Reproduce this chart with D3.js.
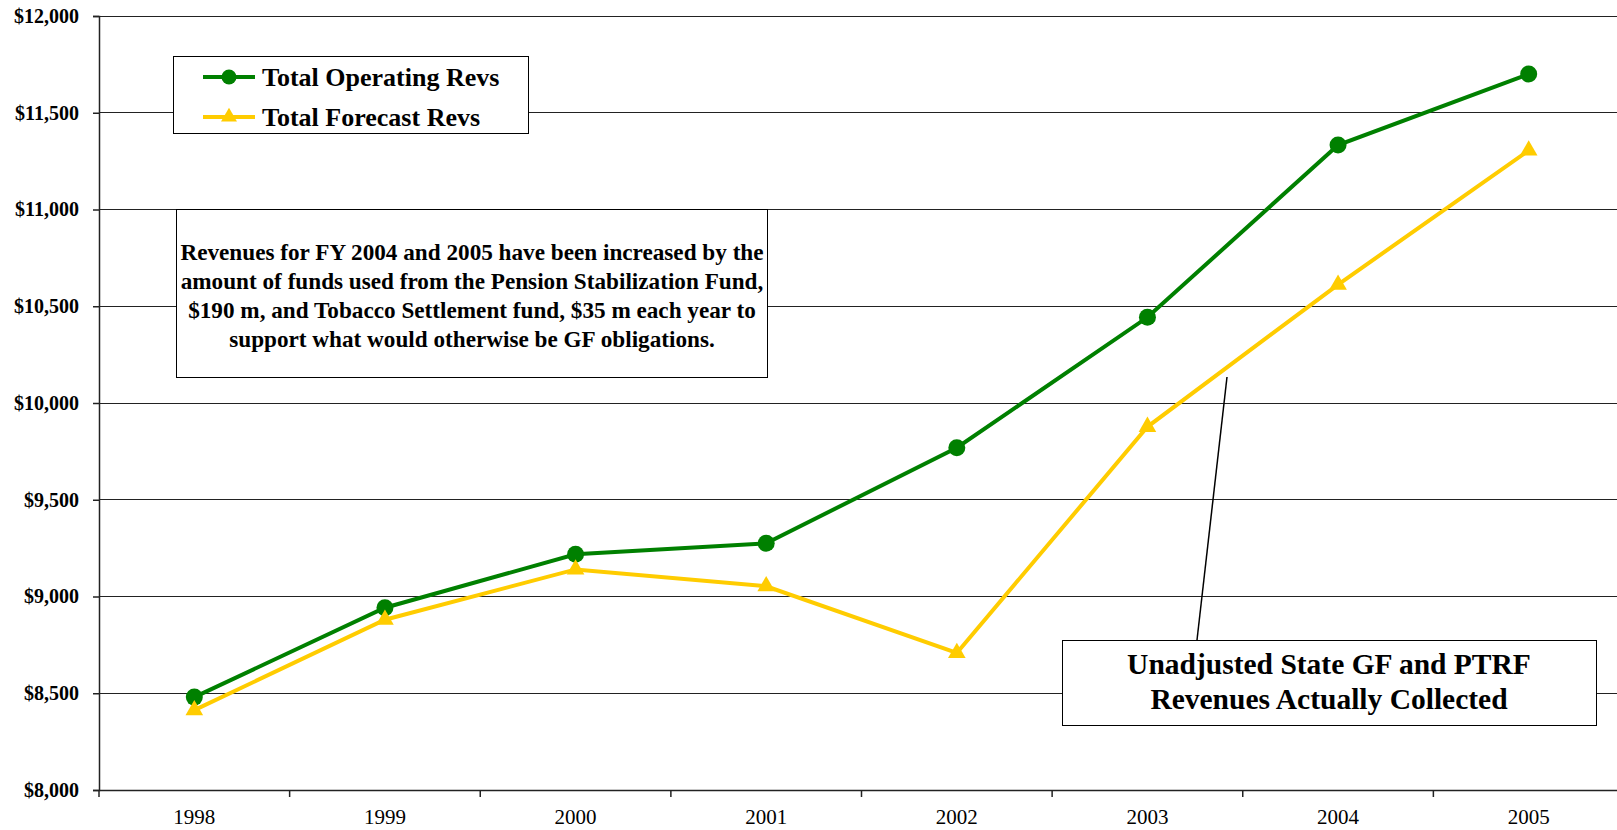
<html>
<head>
<script src="https://cdnjs.cloudflare.com/ajax/libs/d3/7.8.5/d3.min.js"></script>
<style>
  body { margin: 0; background: #fff; }
  text { font-family: "Times New Roman", "Liberation Serif", serif; }
</style>
</head>
<body>
<script>
  // chart data ($ millions)
  var years = ["1998", "1999", "2000", "2001", "2002", "2003", "2004", "2005"];
  var operatingRevs = [8480, 8942, 9218, 9275, 9769, 10443, 11333, 11700];
  var forecastRevs = [8413, 8880, 9140, 9053, 8708, 9877, 10612, 11305];
  var yTicks = [8000, 8500, 9000, 9500, 10000, 10500, 11000, 11500, 12000];
  var seriesNames = ["Total Operating Revs", "Total Forecast Revs"];
  var noteLines = [
    "Revenues for FY 2004 and 2005 have been increased by the",
    "amount of funds used from the Pension Stabilization Fund,",
    "$190 m, and Tobacco Settlement fund, $35 m each year to",
    "support what would otherwise be GF obligations."
  ];
  var calloutLines = ["Unadjusted State GF and PTRF", "Revenues Actually Collected"];

  var viz = { "width": 1617, "height": 830 };
  var plot = { "left": 99, "right": 1624, "top": 16, "bottom": 790 };
  var green = "#008000", yellow = "#FFCC00";
  var serif = '"Times New Roman", "Liberation Serif", serif';

  var svg = d3.select("body").append("svg")
      .attr("width", viz.width)
      .attr("height", viz.height);

  var x = d3.scaleBand().domain(years).range([plot.left, plot.right]).padding(0);
  var y = d3.scaleLinear().domain([8000, 12000]).range([plot.bottom, plot.top]);
  var cx = function(d, i) { return x(years[i]) + x.bandwidth() / 2; };

  // horizontal gridlines
  svg.append("g").selectAll("line").data(yTicks.slice(1)).enter().append("line")
      .attr("x1", plot.left).attr("x2", plot.right)
      .attr("y1", function(d) { return y(d); }).attr("y2", function(d) { return y(d); })
      .attr("stroke", "#222").attr("stroke-width", 1)
      .attr("shape-rendering", "crispEdges");

  // y axis
  var yAxis = d3.axisLeft(y).tickValues(yTicks).tickSize(6).tickPadding(14)
      .tickFormat(function(d) { return "$" + d3.format(",")(d); });
  var gy = svg.append("g").attr("transform", "translate(" + plot.left + ",0)").call(yAxis);
  gy.select(".domain").attr("stroke", "#222").attr("stroke-width", 1.5);
  gy.selectAll(".tick line").attr("stroke", "#222").attr("stroke-width", 1.5);
  gy.selectAll(".tick text").attr("font-size", 20).attr("font-weight", "bold")
      .attr("fill", "#000").style("font-family", serif);

  // x axis, ticks between categories
  var xAxis = d3.axisBottom(x).tickSize(0).tickPadding(19);
  var gx = svg.append("g").attr("transform", "translate(0," + plot.bottom + ")").call(xAxis);
  gx.select(".domain").attr("stroke", "#222").attr("stroke-width", 1.5);
  gx.selectAll(".tick text").attr("font-size", 21).attr("fill", "#000")
      .style("font-family", serif);
  gx.selectAll(".sep").data(years).enter().append("line")
      .attr("class", "sep")
      .attr("x1", function(d) { return x(d); }).attr("x2", function(d) { return x(d); })
      .attr("y1", 0).attr("y2", 7)
      .attr("stroke", "#222").attr("stroke-width", 1.5);

  // series lines
  var line = d3.line().x(cx).y(function(d) { return y(d); });
  svg.append("path").datum(operatingRevs).attr("d", line)
      .attr("fill", "none").attr("stroke", green).attr("stroke-width", 4);
  svg.append("path").datum(forecastRevs).attr("d", line)
      .attr("fill", "none").attr("stroke", yellow).attr("stroke-width", 4);

  // markers
  svg.append("g").selectAll("circle").data(operatingRevs).enter().append("circle")
      .attr("cx", cx).attr("cy", function(d) { return y(d); })
      .attr("r", 8.5).attr("fill", green);
  var tri = d3.symbol().type(d3.symbolTriangle).size(135);
  svg.append("g").selectAll("path").data(forecastRevs).enter().append("path")
      .attr("d", tri)
      .attr("transform", function(d, i) { return "translate(" + cx(d, i) + "," + y(d) + ")"; })
      .attr("fill", yellow);

  // legend
  var legend = svg.append("g");
  legend.append("rect").attr("x", 173.5).attr("y", 56.5).attr("width", 355).attr("height", 77)
      .attr("fill", "#fff").attr("stroke", "#000").attr("stroke-width", 1);
  var colors = [green, yellow];
  seriesNames.forEach(function(name, i) {
    var ly = 77 + i * 40;
    legend.append("line").attr("x1", 203).attr("x2", 255).attr("y1", ly).attr("y2", ly)
        .attr("stroke", colors[i]).attr("stroke-width", 4);
    if (i == 0) {
      legend.append("circle").attr("cx", 229).attr("cy", ly).attr("r", 7.5).attr("fill", green);
    } else {
      legend.append("path").attr("d", d3.symbol().type(d3.symbolTriangle).size(110))
          .attr("transform", "translate(229," + ly + ")").attr("fill", yellow);
    }
    legend.append("text").attr("x", 262).attr("y", ly).attr("dy", "0.35em")
        .attr("font-size", 26).attr("font-weight", "bold").text(name);
  });

  // note box
  var note = svg.append("g");
  note.append("rect").attr("x", 176.5).attr("y", 209.5).attr("width", 591).attr("height", 168)
      .attr("fill", "#fff").attr("stroke", "#000").attr("stroke-width", 1);
  note.selectAll("text").data(noteLines).enter().append("text")
      .attr("x", 472).attr("y", function(d, i) { return 252 + i * 29; }).attr("dy", "0.35em")
      .attr("text-anchor", "middle").attr("font-size", 23.2).attr("font-weight", "bold")
      .text(function(d) { return d; });

  // callout line and box
  svg.append("line").attr("x1", 1227).attr("y1", 377).attr("x2", 1197).attr("y2", 640)
      .attr("stroke", "#000").attr("stroke-width", 1.5);
  var callout = svg.append("g");
  callout.append("rect").attr("x", 1062.5).attr("y", 640.5).attr("width", 534).attr("height", 85)
      .attr("fill", "#fff").attr("stroke", "#000").attr("stroke-width", 1);
  callout.selectAll("text").data(calloutLines).enter().append("text")
      .attr("x", 1329).attr("y", function(d, i) { return 664 + i * 35; }).attr("dy", "0.35em")
      .attr("text-anchor", "middle").attr("font-size", 29.5).attr("font-weight", "bold")
      .text(function(d) { return d; });
</script>
</body>
</html>
